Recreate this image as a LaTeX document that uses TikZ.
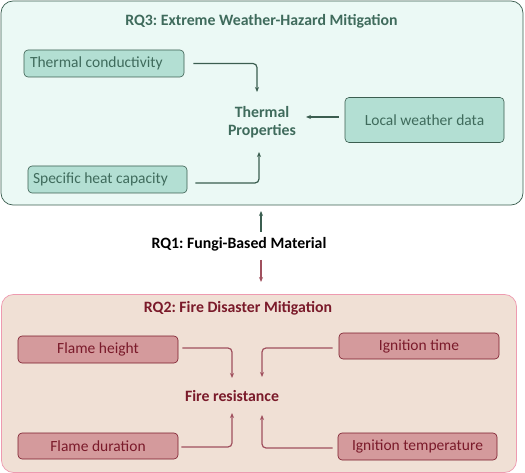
\documentclass[tikz,border=0pt]{standalone}
\usepackage{fontspec}
\setmainfont{Carlito}
\frenchspacing
\usetikzlibrary{arrows.meta}
\definecolor{gfill}{HTML}{EBF9F5}
\definecolor{gborder}{HTML}{3B5E50}
\definecolor{gbox}{HTML}{B3DFD3}
\definecolor{gtext}{HTML}{3F6B5C}
\definecolor{rfill}{HTML}{F0E0D5}
\definecolor{rborder}{HTML}{EE9AB0}
\definecolor{rbox}{HTML}{D49A9C}
\definecolor{rtext}{HTML}{7A1A2A}
\definecolor{rarrow}{HTML}{A0505E}
\tikzset{
  gitem/.style={draw=gborder, fill=gbox, rounded corners=4pt, line width=0.6pt, text=gtext, font=\fontsize{15.5}{17}\selectfont, inner sep=0pt},
  ritem/.style={draw=rtext, fill=rbox, rounded corners=4pt, line width=0.6pt, text=rtext, font=\fontsize{15.5}{17}\selectfont, inner sep=0pt},
  garr/.style={draw=gborder, line width=1.2pt, rounded corners=4pt, -{Stealth[length=5pt,width=4pt]}},
  rarr/.style={draw=rarrow, line width=1.2pt, rounded corners=4pt, -{Stealth[length=5pt,width=4pt]}},
  ttl/.style={font=\fontsize{15.8}{18}\selectfont\bfseries},
}
\begin{document}
\begin{tikzpicture}[x=1pt,y=-1pt]
\useasboundingbox (0,0) rectangle (525,473);
% panels
\node[draw=gborder, fill=gfill, rounded corners=12pt, line width=0.7pt, minimum width=522pt, minimum height=204pt, inner sep=0pt] (top) at (262,103) {};
\node[draw=rborder, fill=rfill, rounded corners=12pt, line width=0.7pt, minimum width=515pt, minimum height=178pt, inner sep=0pt] (bot) at (259,383.5) {};
% titles
\node[ttl, text=gtext] (t3) at (261.5,21) {RQ3: Extreme Weather-Hazard Mitigation};
\node[ttl, text=rtext] (t2) at (238,308) {RQ2: Fire Disaster Mitigation};
\node[ttl, text=black] (rq1) at (239,244) {RQ1: Fungi-Based Material};
% green items
\node[gitem, minimum width=160pt, minimum height=27pt] (tc) at (104,63.5) {\makebox[148pt][l]{Thermal conductivity}};
\node[gitem, minimum width=159pt, minimum height=27pt] (shc) at (107.5,179.5) {\makebox[149pt][l]{Specific heat capacity}};
\node[gitem, minimum width=159pt, minimum height=45pt] (lwd) at (424.5,120) {Local weather data};
\node[ttl, text=gtext, align=center] (tp) at (262,122) {Thermal\\Properties};
% red items
\node[ritem, minimum width=160pt, minimum height=27pt] (fh) at (98,349.5) {Flame height};
\node[ritem, minimum width=160pt, minimum height=26pt] (fd) at (98,446) {Flame duration};
\node[ritem, minimum width=160pt, minimum height=26pt] (it) at (419,346) {Ignition time};
\node[ritem, minimum width=159pt, minimum height=27pt] (ig) at (417.5,446.5) {Ignition temperature};
\node[ttl, text=rtext] (fr) at (232,396) {Fire resistance};
% endpoints
\coordinate (tpa) at (257,92);
\coordinate (tpb) at (259,152);
\coordinate (tpc) at (306,117);
\coordinate (fra) at (232,378);
\coordinate (frb) at (262,377);
\coordinate (frc) at (232,413);
\coordinate (frd) at (262,415);
\coordinate (topin) at (261,211);
\coordinate (botin) at (261,282);
\coordinate (rq1up) at (261,232);
\coordinate (rq1dn) at (261,260);
% green arrows
\draw[garr] ([xshift=9pt]tc.east) -| (tpa);
\draw[garr] ([xshift=8pt,yshift=-3.5pt]shc.east) -| (tpb);
\draw[garr] ([xshift=-6pt,yshift=3pt]lwd.west) -- (tpc);
\draw[garr, line width=1.1pt] (rq1up) -- (topin);
\draw[rarr, line width=1.1pt] (rq1dn) -- (botin);
% red arrows
\draw[rarr] ([xshift=4pt,yshift=1.5pt]fh.east) -| (fra);
\draw[rarr] ([xshift=-6pt,yshift=-2pt]it.west) -| (frb);
\draw[rarr] ([xshift=3pt,yshift=-1pt]fd.east) -| (frc);
\draw[rarr] ([xshift=-5pt,yshift=-1.5pt]ig.west) -| (frd);
\end{tikzpicture}
\end{document}
